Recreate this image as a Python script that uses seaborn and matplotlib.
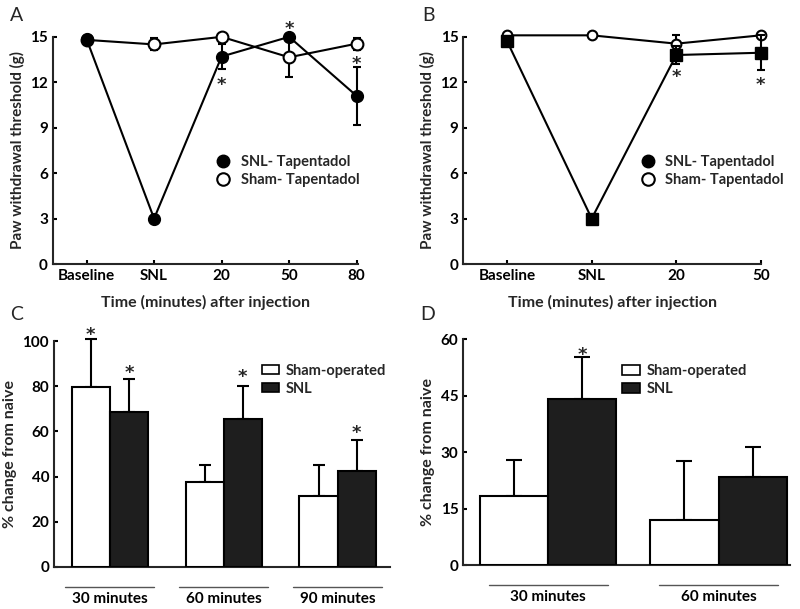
import matplotlib.pyplot as plt
import matplotlib.transforms as mtransforms
from matplotlib.container import BarContainer
from matplotlib.lines import Line2D
from matplotlib.patches import Patch
import numpy as np
import pandas as pd
import seaborn as sns

# %% data
# panel A: paw withdrawal threshold (g)
a_times = ["Baseline", "SNL", "20", "50", "80"]
a_snl = [14.85, 3.0, 13.7, 15.0, 11.1]
a_snl_err = [0.1, 0.1, 0.8, 0.1, 1.9]
a_sham = [14.8, 14.5, 15.0, 13.65, 14.55]
a_sham_err = [0.1, 0.4, 0.1, 1.3, 0.4]
a_stars = [(2, 12.15), (3, 15.85), (4, 13.5)]

# panel B
b_times = ["Baseline", "SNL", "20", "50"]
b_snl = [14.7, 3.0, 13.8, 13.95]
b_snl_err = [0.1, 0.1, 0.6, 1.15]
b_sham = [15.1, 15.1, 14.55, 15.1]
b_sham_err = [0.1, 0.1, 0.55, 0.1]
b_stars = [(2, 12.65), (3, 12.1)]

# panel C: % change from naive
c_times = ["30 minutes", "60 minutes", "90 minutes"]
c_sham = [79.5, 37.7, 31.5]
c_sham_err = [21.2, 7.3, 13.5]
c_snl = [68.5, 65.5, 42.6]
c_snl_err = [14.5, 14.5, 13.4]
c_stars = [(0, 0, 104.9), (0, 1, 88.0), (1, 1, 86.0), (2, 1, 61.5)]

# panel D
d_times = ["30 minutes", "60 minutes"]
d_sham = [18.4, 12.0]
d_sham_err = [9.6, 15.7]
d_snl = [44.0, 23.3]
d_snl_err = [11.3, 8.1]
d_stars = [(0, 1, 57.0)]

line_groups = ["SNL- Tapentadol", "Sham- Tapentadol"]
bar_groups = ["Sham-operated", "SNL"]
bar_colors = {"Sham-operated": "white", "SNL": "#1e1e1e"}

# %% style
sns.set_style("ticks")
plt.rcParams["font.family"] = ["Lato", "DejaVu Sans"]
plt.rcParams["font.weight"] = "bold"
plt.rcParams["axes.labelweight"] = "bold"
plt.rcParams["font.size"] = 10
plt.rcParams["axes.linewidth"] = 1.5

fig = plt.figure(figsize=(8, 6.09), dpi=100)
ax_a = fig.add_axes([0.066, 0.5665, 0.3815, 0.373])
ax_b = fig.add_axes([0.579, 0.5665, 0.372, 0.373])
ax_c = fig.add_axes([0.0675, 0.069, 0.42, 0.371])
ax_d = fig.add_axes([0.579, 0.072, 0.4085, 0.371])


def star(ax, x, y):
    # glyph of "*" sits ~0.55em above the baseline, shift it down so it is centred on y
    tr = mtransforms.offset_copy(ax.transData, fig=fig, y=-7.0, units="points")
    ax.text(x, y, "*", transform=tr, ha="center", va="baseline", fontsize=13,
            fontweight="bold", family="DejaVu Sans", clip_on=False)


def style_axes(ax):
    sns.despine(ax=ax)
    ax.tick_params(direction="in", length=3, width=1.5, labelsize=11, colors="black")
    for lab in ax.get_xticklabels() + ax.get_yticklabels():
        lab.set_fontweight("bold")


def line_panel(ax, times, snl, snl_err, sham, sham_err, stars, snl_marker, ms_snl, ms_sham):
    x = np.arange(len(times))
    ax.errorbar(x, sham, yerr=sham_err, fmt="none", ecolor="black", elinewidth=1.5,
                capsize=3, capthick=1.5, clip_on=False, zorder=2)
    sns.lineplot(x=x, y=sham, ax=ax, color="black", lw=1.5, marker="o", markersize=ms_sham,
                 markerfacecolor="white", markeredgecolor="black", markeredgewidth=1.5, zorder=3)
    ax.errorbar(x, snl, yerr=snl_err, fmt="none", ecolor="black", elinewidth=1.5,
                capsize=3, capthick=1.5, clip_on=False, zorder=4)
    sns.lineplot(x=x, y=snl, ax=ax, color="black", lw=1.5, marker=snl_marker, markersize=ms_snl,
                 markerfacecolor="black", markeredgecolor="black", markeredgewidth=1, zorder=5)
    for ln in ax.lines:
        ln.set_clip_on(False)
    for i, y in stars:
        star(ax, i, y)
    ax.set_ylim(0, 15)
    ax.set_yticks([0, 3, 6, 9, 12, 15])
    ax.set_xticks(x)
    ax.set_xticklabels(times)
    ax.set_ylabel("Paw withdrawal threshold (g)", fontsize=11, labelpad=4)
    ax.set_xlabel("Time (minutes) after injection", fontsize=11.5, labelpad=9)
    style_axes(ax)


def bar_panel(ax, times, sham, sham_err, snl, snl_err, stars, width, yticks, capsize):
    df = pd.DataFrame({
        "time": times * 2,
        "group": [bar_groups[0]] * len(times) + [bar_groups[1]] * len(times),
        "value": sham + snl,
    })
    sns.barplot(data=df, x="time", y="value", hue="group", hue_order=bar_groups,
                palette=bar_colors, edgecolor="black", linewidth=1.5, width=width,
                errorbar=None, ax=ax, legend=False, zorder=3)
    errs = [sham_err, snl_err]
    bar_conts = [c for c in ax.containers if isinstance(c, BarContainer)]
    centers = {}
    for g, cont in enumerate(bar_conts):
        for i, bar in enumerate(cont.patches):
            xc = bar.get_x() + bar.get_width() / 2
            centers[(i, g)] = xc
            ax.errorbar(xc, bar.get_height(), yerr=[[0], [errs[g][i]]], fmt="none",
                        ecolor="black", elinewidth=1.5, capsize=capsize, capthick=1.5,
                        clip_on=False, zorder=2)
    for i, g, y in stars:
        star(ax, centers[(i, g)], y)
    ax.set_ylim(0, yticks[-1])
    ax.set_yticks(yticks)
    ax.set_xlabel("")
    ax.set_ylabel("% change from naive", fontsize=11.5, labelpad=4)
    style_axes(ax)
    ax.tick_params(axis="x", length=0, pad=18)
    trans = mtransforms.blended_transform_factory(ax.transData, ax.transAxes)
    half = 0.39 if len(times) == 3 else 0.35
    for i in range(len(times)):
        ax.plot([i - half, i + half], [-0.088, -0.088], color="#555555", lw=1,
                transform=trans, clip_on=False)
    handles = [Patch(facecolor=bar_colors[g], edgecolor="black", linewidth=1.2, label=g)
               for g in bar_groups]
    return handles


line_panel(ax_a, a_times, a_snl, a_snl_err, a_sham, a_sham_err, a_stars, "o", 8.5, 8.5)
ax_a.set_xlim(-0.5, 4.02)
line_panel(ax_b, b_times, b_snl, b_snl_err, b_sham, b_sham_err, b_stars, "s", 8, 7)
ax_b.set_xlim(-0.52, 3.0)

line_handles = [
    Line2D([], [], ls="none", marker="o", ms=9, mfc="black", mec="black", label=line_groups[0]),
    Line2D([], [], ls="none", marker="o", ms=9, mfc="white", mec="black", mew=1.5, label=line_groups[1]),
]
for ax, left in [(ax_a, 0.534), (ax_b, 0.596)]:
    ax.legend(handles=line_handles, loc="upper left", bbox_to_anchor=(left, 0.48),
              frameon=False, borderpad=0, borderaxespad=0, handlelength=1,
              handletextpad=0.7, labelspacing=0.3, prop={"weight": "bold", "size": 10.5})

h = bar_panel(ax_c, c_times, c_sham, c_sham_err, c_snl, c_snl_err, c_stars, 0.67,
              [0, 20, 40, 60, 80, 100], 4.5)
ax_c.set_xlim(-0.49, 2.46)
ax_c.legend(handles=h, loc="upper left", bbox_to_anchor=(0.619, 0.9), frameon=False,
            borderpad=0, borderaxespad=0, handlelength=1.2, handleheight=0.6,
            handletextpad=0.4, labelspacing=0.3, prop={"weight": "bold", "size": 10.5})

h = bar_panel(ax_d, d_times, d_sham, d_sham_err, d_snl, d_snl_err, d_stars, 0.8,
              [0, 15, 30, 45, 60], 6)
ax_d.set_xlim(-0.5, 1.42)
ax_d.legend(handles=h, loc="upper left", bbox_to_anchor=(0.486, 0.89), frameon=False,
            borderpad=0, borderaxespad=0, handlelength=1.2, handleheight=0.7,
            handletextpad=0.5, labelspacing=0.3, prop={"weight": "bold", "size": 10.5})

for lab, (x, y) in zip("ABCD", [(0.021, 0.975), (0.535, 0.975), (0.021, 0.483), (0.535, 0.483)]):
    fig.text(x, y, lab, fontsize=14, fontweight="normal", ha="center", va="center")

fig.savefig("out.png", dpi=100)
